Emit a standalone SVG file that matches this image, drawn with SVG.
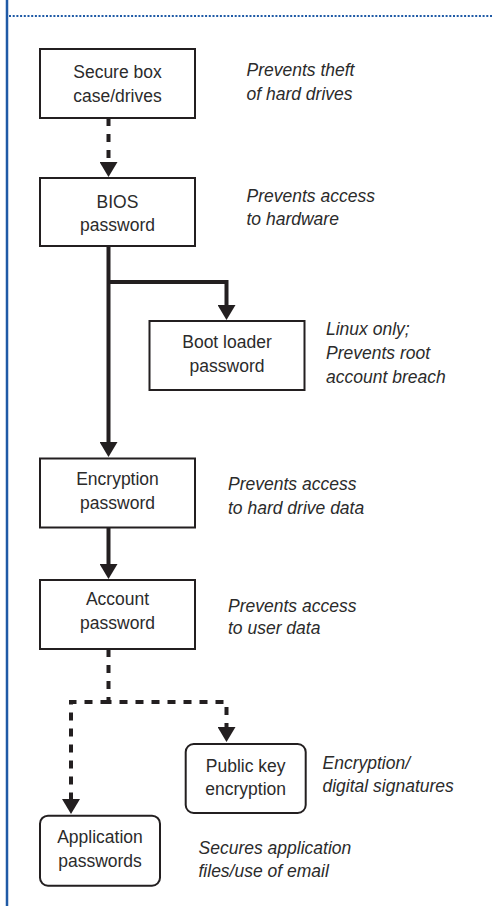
<svg xmlns="http://www.w3.org/2000/svg" width="493" height="906" viewBox="0 0 493 906">
<style>
.box{fill:#fff;stroke:#231f20;stroke-width:2}
.lbl{font-family:"Liberation Sans",Arial,sans-serif;font-size:17.5px;fill:#2b2b2b;text-anchor:middle}
.desc{font-family:"Liberation Sans",Arial,sans-serif;font-size:17.5px;font-style:italic;fill:#2b2b2b}
.solid{fill:none;stroke:#231f20;stroke-width:4}
.dash{fill:none;stroke:#231f20;stroke-width:4;stroke-dasharray:8 8}
</style>
<defs>
<marker id="ah" markerUnits="userSpaceOnUse" markerWidth="15" markerHeight="18" viewBox="0 0 15 18" refX="0" refY="9" orient="auto">
<path d="M0,0 L15,9 L0,18 Z" fill="#231f20"/>
</marker>
</defs>
<rect width="493" height="906" fill="#fff"/>
<g id="frame">
<line x1="7" y1="0" x2="7" y2="906" stroke="#1f5aa6" stroke-width="2.5"/>
<line x1="9" y1="16" x2="493" y2="16" stroke="#1f5aa6" stroke-width="2" stroke-dasharray="2 1.7"/>
</g>
<g id="connectors">
<path class="dash" d="M108.5,118 V162" marker-end="url(#ah)"/>
<path class="solid" d="M108.5,246 V442" marker-end="url(#ah)"/>
<path class="solid" d="M108.5,282 H226.5 V305" marker-end="url(#ah)"/>
<path class="solid" d="M108.5,527.5 V564" marker-end="url(#ah)"/>
<path class="dash" d="M108.5,649 V702 H226.5 V727" marker-end="url(#ah)"/>
<path class="dash" d="M108.5,702 H71 V799" marker-end="url(#ah)"/>
</g>
<g id="secure-box">
<rect class="box" x="40" y="49" width="155" height="69"/>
<text class="lbl" x="117.5" y="78">Secure box</text>
<text class="lbl" x="117.5" y="101.5">case/drives</text>
<text class="desc" x="246.5" y="76">Prevents theft</text>
<text class="desc" x="246.5" y="100">of hard drives</text>
</g>
<g id="bios">
<rect class="box" x="40" y="178" width="155" height="68"/>
<text class="lbl" x="117.5" y="207.5">BIOS</text>
<text class="lbl" x="117.5" y="231">password</text>
<text class="desc" x="246.5" y="201.5">Prevents access</text>
<text class="desc" x="246.5" y="225">to hardware</text>
</g>
<g id="boot-loader">
<rect class="box" x="149.5" y="321" width="155" height="69"/>
<text class="lbl" x="227" y="348">Boot loader</text>
<text class="lbl" x="227" y="371.5">password</text>
<text class="desc" x="326" y="335">Linux only;</text>
<text class="desc" x="326" y="358.5">Prevents root</text>
<text class="desc" x="326" y="382.5">account breach</text>
</g>
<g id="encryption">
<rect class="box" x="40" y="458.5" width="155" height="69"/>
<text class="lbl" x="117.5" y="485">Encryption</text>
<text class="lbl" x="117.5" y="509">password</text>
<text class="desc" x="228" y="490">Prevents access</text>
<text class="desc" x="228" y="513.5">to hard drive data</text>
</g>
<g id="account">
<rect class="box" x="40" y="580" width="155" height="69"/>
<text class="lbl" x="117.5" y="605">Account</text>
<text class="lbl" x="117.5" y="629">password</text>
<text class="desc" x="228" y="611.5">Prevents access</text>
<text class="desc" x="228" y="634">to user data</text>
</g>
<g id="public-key">
<rect class="box" x="185.7" y="744" width="120" height="69" rx="8"/>
<text class="lbl" x="245.7" y="771.5">Public key</text>
<text class="lbl" x="245.7" y="795">encryption</text>
<text class="desc" x="322.5" y="769">Encryption/</text>
<text class="desc" x="322.5" y="791.5">digital signatures</text>
</g>
<g id="application">
<rect class="box" x="40" y="815.7" width="120" height="70" rx="8"/>
<text class="lbl" x="100" y="843">Application</text>
<text class="lbl" x="100" y="866.5">passwords</text>
<text class="desc" x="198.5" y="853.5">Secures application</text>
<text class="desc" x="198.5" y="877">files/use of email</text>
</g>
</svg>
